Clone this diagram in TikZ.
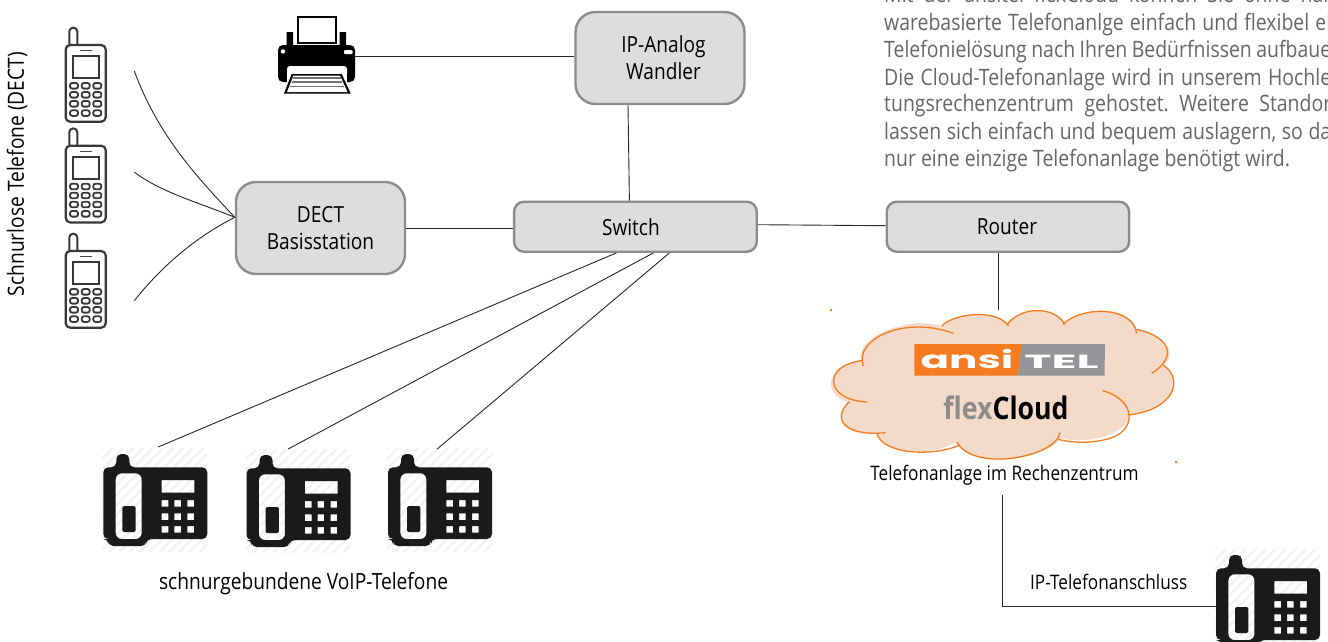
\documentclass[tikz,border=0pt]{standalone}
\usepackage{fontspec}
\setmainfont[FakeStretch=0.86]{Open Sans}
\newfontfamily\logofont{Poppins}
\usetikzlibrary{calc}
\definecolor{boxfill}{HTML}{DDDDDD}
\definecolor{boxline}{HTML}{8C8C8C}
\definecolor{cloudfill}{HTML}{F4DAC8}
\definecolor{cloudline}{HTML}{F47B20}
\definecolor{para}{HTML}{666666}
\definecolor{logogrey}{HTML}{939598}
\definecolor{inkblack}{HTML}{1A1A1A}
\newcommand{\paraline}[2]{\node[paratext] at (884,#1) {\frenchspacing\makebox[447pt][s]{#2}};}
\tikzset{
  box/.style={draw=boxline,line width=2.4pt,fill=boxfill,rounded corners=#1,inner sep=0pt,align=center,text=black,font=\fontsize{22.2}{27.3}\selectfont},
  link/.style={draw=black!85,line width=0.9pt},
  label/.style={inner sep=0pt,text=black,font=\fontsize{22.3}{27}\selectfont},
  smalllabel/.style={inner sep=0pt,text=black,font=\fontsize{20}{24}\selectfont},
  paratext/.style={anchor=base west,inner sep=0pt,text=para,font=\fontsize{22.6}{27}\selectfont},
  iconbox/.style={inner sep=0pt,minimum width=#1,anchor=north west},
  cloudarc/.style={draw=cloudline,line width=1.3pt},
  mobile/.pic={
    \draw[line width=2pt,draw=black!78,fill=white,rounded corners=3.8pt] (3.6,0) -- (3.6,-17.3) -- (11.6,-17.3) -- (11.6,0);
    \draw[line width=2.2pt,draw=black!78,fill=white,rounded corners=4.5pt] (0,0) rectangle (40,76.7);
    \draw[line width=2pt,draw=black!78] (7,11) rectangle (33.6,33.3);
    \draw[line width=1.5pt,draw=black!70] (14.5,5.7) -- (26,5.7);
    \foreach \kx in {4.3,16,27.6}
      \foreach \ky in {38,47,56,65.3}
        \draw[line width=1.8pt,draw=black!78,rounded corners=2.2pt] (\kx,\ky) rectangle ++(8,5.6);
  },
  deskphone/.pic={
    \begin{scope}
      \clip (-1,-6) rectangle (104,97.5);
      \foreach \s in {0,10,...,220}
        \draw[line width=2.4pt,draw=black!5] (\s-110,104) -- (\s,-6);
    \end{scope}
    \fill[inkblack,even odd rule]
      [rounded corners=5pt] (13,13.3) -- (13,0) -- (26,0) -- (26,13.3) -- (104,13.3) -- (104,85) -- (43,85) -- (43,92) -- (5,92) -- (5,85) -- (0,85) -- (0,13.3) -- cycle
      [rounded corners=6pt] (12.4,19.3) rectangle (38.4,85)
      [sharp corners] (58.4,26) rectangle (91,38.7)
      (58.4,46) rectangle ++(6.7,6.7) (71,46) rectangle ++(6.7,6.7) (84,46) rectangle ++(6.7,6.7)
      (58.4,59.3) rectangle ++(6.7,6.7) (71,59.3) rectangle ++(6.7,6.7) (84,59.3) rectangle ++(6.7,6.7)
      (58.4,72) rectangle ++(6.7,6.7) (71,72) rectangle ++(6.7,6.7) (84,72) rectangle ++(6.7,6.7);
    \fill[inkblack,rounded corners=1.5pt] (19,52) rectangle (32.4,78);
  },
  printericon/.pic={
    \draw[line width=1.3pt,fill=white] (20,0) -- (20,26) -- (58,26) -- (58,0) -- cycle;
    \fill[black] (8.5,15) rectangle (15,32) (61.5,15) rectangle (68,32);
    \fill[black,rounded corners=5pt] (0,28) rectangle (77,65);
    \fill[white] (9,53) rectangle (69,66);
    \fill[white,rounded corners=3pt] (9,49) rectangle (69,60);
    \fill[white] (5,34.5) circle (2.2);
    \fill[white,rounded corners=1pt] (66,33) rectangle (74.5,37);
    \fill[black] (13.7,57) -- (63.7,57) -- (72.7,76.5) -- (6,76.5) -- cycle;
    \fill[white] (15.5,58.5) -- (62,58.5) -- (69.5,75) -- (9,75) -- cycle;
    \foreach \ly/\lxa/\lxb in {60.8/15/62.5,65/13.5/64,69.5/11.5/66}
      \draw[line width=1.9pt,draw=black!55] (\lxa,\ly) -- (\lxb,\ly);
  }
}
\begin{document}
\begin{tikzpicture}[x=1pt,y=-1pt]
\useasboundingbox (0,0) rectangle (1328,641);
\begin{scope}
\clip (0,0) rectangle (1328,641);
% paragraph
\paraline{2.5}{Mit der ansitel flexCloud können Sie ohne har}
\paraline{30}{warebasierte Telefonanlge einfach und flexibel ei}
\paraline{57.3}{Telefonielösung nach Ihren Bedürfnissen aufbaue}
\paraline{85}{Die Cloud-Telefonanlage wird in unserem Hochle}
\paraline{111.7}{tungsrechenzentrum gehostet. Weitere Standor}
\paraline{139.3}{lassen sich einfach und bequem auslagern, so da}
\node[paratext] at (884,166) {nur eine einzige Telefonanlage benötigt wird.};

% boxes
\node[box=20pt,minimum width=169pt,minimum height=92pt] (ipa) at (660,58) {\hspace*{7pt}IP-Analog\\\hspace*{7pt}Wandler};
\node[box=20pt,minimum width=169pt,minimum height=92pt] (dect) at (320.5,228) {DECT\\Basisstation};
\node[box=10pt,minimum width=242.7pt,minimum height=50pt] (sw) at (635.4,226.7) {Switch\hspace*{9pt}};
\node[box=10pt,minimum width=242.4pt,minimum height=50pt] (rt) at (1007.9,226.7) {Router\hspace*{2pt}};

% icons
\foreach \py in {45,145.7,251}
  \pic at (65.7,\py) {mobile};
\pic at (278,17) {printericon};
\pic at (103.3,454) {deskphone};
\pic at (246.5,455) {deskphone};
\pic at (388,454) {deskphone};
\pic at (1216,555) {deskphone};

% named icon outlines for the connectors
\node[iconbox=77pt,minimum height=78pt] (printer) at (278,17) {};
\node[iconbox=104pt,minimum height=92pt] (desk1) at (103.3,454) {};
\node[iconbox=104pt,minimum height=92pt] (desk2) at (246.5,455) {};
\node[iconbox=104pt,minimum height=92pt] (desk3) at (388,454) {};
\node[iconbox=104pt,minimum height=102pt] (desk4) at (1216,555) {};
\coordinate (f1) at (134.3,71);
\coordinate (f2) at (134.3,172);
\coordinate (f3) at (134.3,300.7);
\coordinate (dectin) at ([yshift=10.7pt]dect.west);
\coordinate (cloudtop) at (998.5,310);
\coordinate (d1) at ([shift={(2.7pt,7pt)}]desk1.north);
\coordinate (d2) at ([shift={(-10.5pt,6pt)}]desk2.north);
\coordinate (d3) at ([shift={(-3pt,5pt)}]desk3.north);
\coordinate (cbot) at (1002,495);

% connectors
\draw[link] (f1) .. controls (158,135) and (195,175) .. (dectin);
\draw[link] (f2) .. controls (160,192) and (200,203) .. (dectin);
\draw[link] (f3) .. controls (165,262) and (200,235) .. (dectin);
\draw[link] (printer.east) -- (ipa.west |- printer.east);
\draw[link] ([xshift=-32pt]ipa.south) -- ([xshift=-6pt]sw.north);
\draw[link] (dect.east) -- (dect.east -| sw.west);
\draw[link] ([yshift=2pt]sw.east) -- ([yshift=1pt]rt.west);
\draw[link] ([xshift=-9.4pt]rt.south) -- (cloudtop);
\draw[link] ([xshift=-19pt]sw.south) -- (d1);
\draw[link] ([xshift=18pt]sw.south) -- (d2);
\draw[link] ([xshift=34pt]sw.south) -- (d3);
\draw[link] (cbot) |- (desk4.west);

% cloud
\begin{scope}[shift={(820,290)},x=0.3333pt,y=-0.3333pt]
  \fill[cloudfill]
    (125,212) .. controls (100,150) and (250,75) .. (365,108)
    .. controls (400,70) and (530,55) .. (562,105)
    .. controls (600,50) and (700,45) .. (733,100)
    .. controls (790,45) and (940,50) .. (950,120)
    .. controls (1040,140) and (1075,190) .. (1030,225)
    .. controls (1095,270) and (1060,360) .. (925,375)
    .. controls (935,410) and (840,470) .. (718,445)
    .. controls (700,500) and (460,550) .. (410,455)
    .. controls (340,500) and (190,495) .. (170,430)
    .. controls (80,440) and (30,390) .. (85,335)
    .. controls (10,320) and (10,225) .. (125,212) -- cycle;
  \draw[cloudarc] (130,228) .. controls (100,150) and (250,75) .. (400,130);
  \draw[cloudarc] (365,108) .. controls (400,70) and (530,55) .. (566,108);
  \draw[cloudarc] (560,105) .. controls (600,50) and (700,45) .. (735,103);
  \draw[cloudarc] (728,103) .. controls (790,45) and (940,50) .. (950,130);
  \draw[cloudarc] (950,118) .. controls (1050,140) and (1075,200) .. (995,250);
  \draw[cloudarc] (1030,225) .. controls (1095,270) and (1060,360) .. (925,375);
  \draw[cloudarc] (848,302) .. controls (950,330) and (950,420) .. (870,445) .. controls (820,460) and (760,460) .. (715,448);
  \draw[cloudarc] (720,428) .. controls (710,500) and (460,550) .. (410,455);
  \draw[cloudarc] (420,465) .. controls (340,500) and (190,495) .. (170,430);
  \draw[cloudarc] (197,428) .. controls (80,440) and (30,390) .. (88,335);
  \draw[cloudarc] (142,336) .. controls (10,330) and (10,225) .. (125,212);
\end{scope}
\fill[cloudline] (830,309) rectangle (832,311) (1175,461) rectangle (1177,463);

% logo
\fill[cloudline] (914.3,344) -- (1021.7,344) -- (1018,375.7) -- (914.3,375.7) -- cycle;
\fill[logogrey] (1021.7,344) -- (1105,344) -- (1104.5,375.7) -- (1018,375.7) -- cycle;
\node[inner sep=0pt,anchor=base,text=white,xscale=1.75,font=\logofont\bfseries\fontsize{24}{24}\selectfont] (ansi) at (967,368) {ansi};
\node[inner sep=0pt,anchor=base,text=white,xscale=2.43,font=\logofont\bfseries\fontsize{19}{19}\selectfont] (tel) at (1061.5,368) {TEL};
\node[inner sep=0pt,font=\bfseries\fontsize{31}{31}\selectfont] (flex) at (1006,408) {\textcolor{black!45}{flex}\textcolor{black}{Cloud}};

% labels
\node[label,rotate=90] (lmob) at (17,174) {Schnurlose Telefone (DECT)};
\node[smalllabel] (lcloud) at (1004.5,475) {Telefonanlage im Rechenzentrum};
\node[label] (lvoip) at (303.5,584) {schnurgebundene VoIP-Telefone};
\node[smalllabel] (lip) at (1108.7,582) {IP-Telefonanschluss};
\end{scope}
\end{tikzpicture}
\end{document}
